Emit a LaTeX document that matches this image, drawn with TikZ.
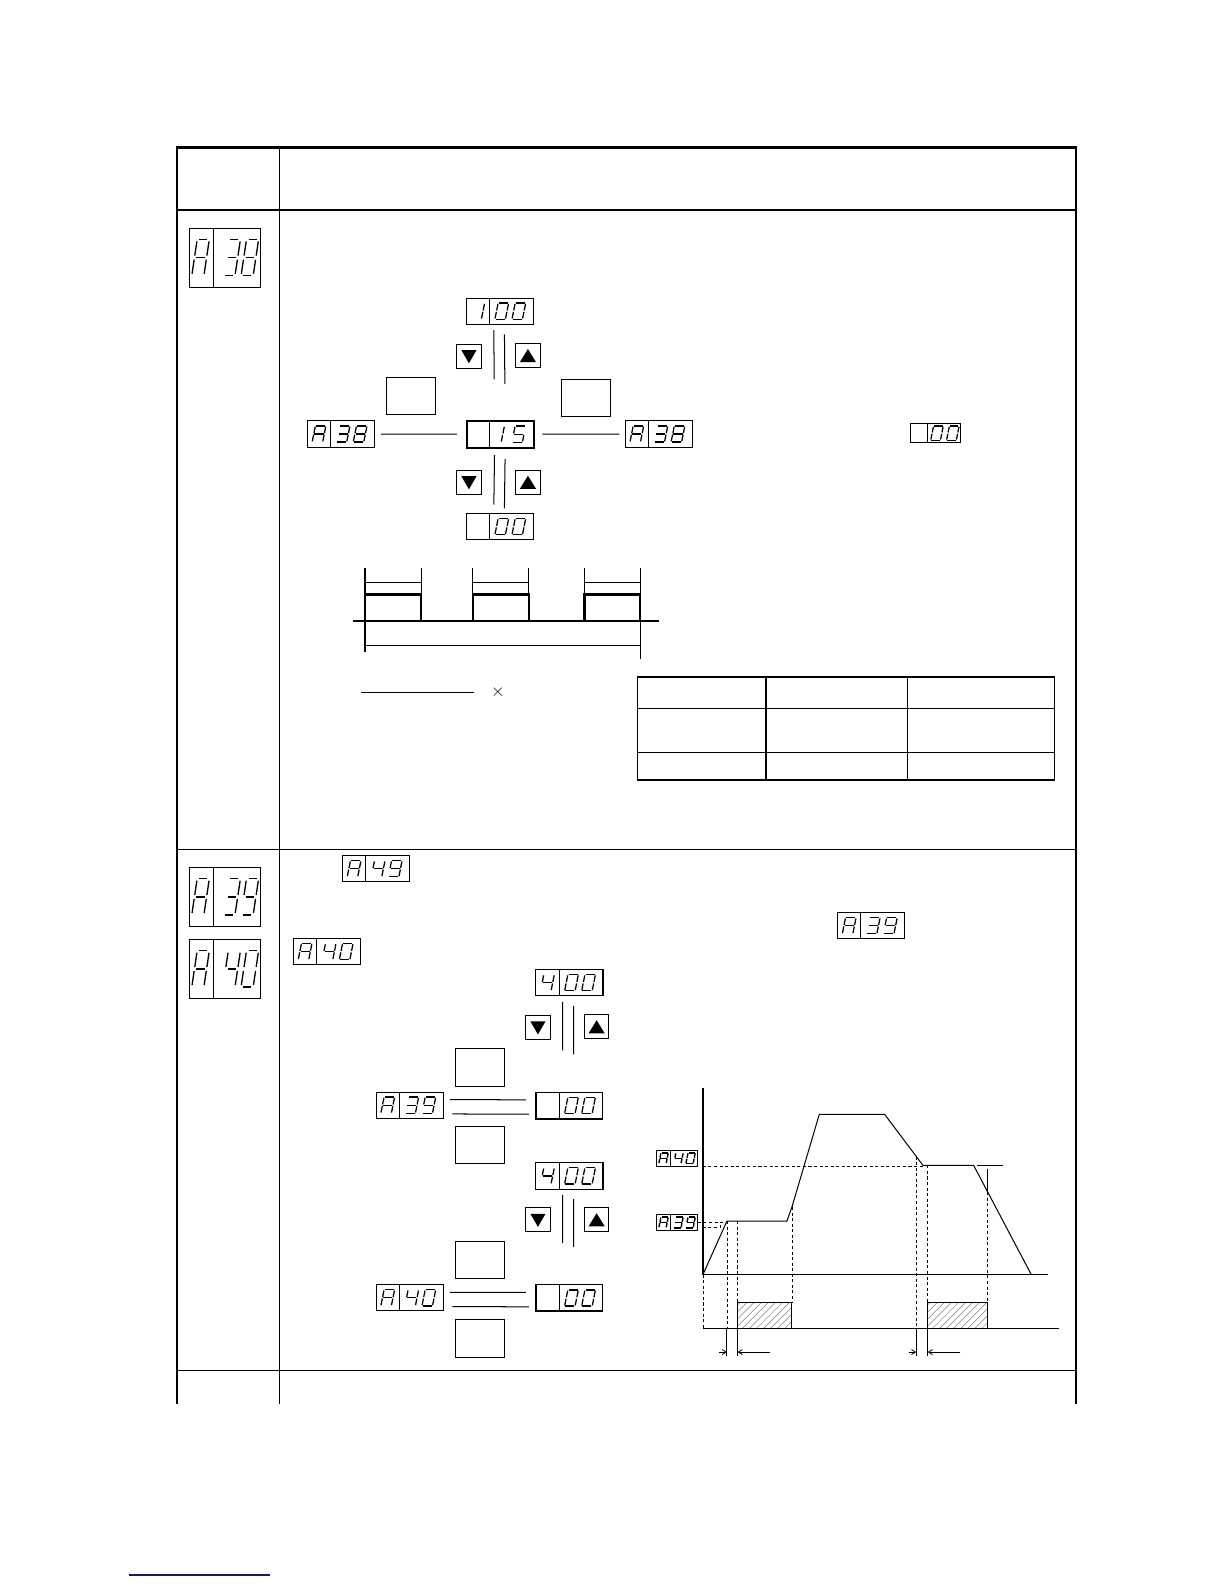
\documentclass[tikz,border=0pt]{standalone}
\usetikzlibrary{calc,arrows.meta}
\definecolor{linkblue}{RGB}{20,20,140}
% seven-segment helpers
\newcommand\zsa{\draw[line width=\zlw] (-\zhw+\zgp,-\zhh) -- (\zhw-\zgp,-\zhh);}
\newcommand\zsb{\draw[line width=\zlw] (\zhw,-\zhh+\zgp) -- (\zhw,-\zgp);}
\newcommand\zsc{\draw[line width=\zlw] (\zhw,\zgp) -- (\zhw,\zhh-\zgp);}
\newcommand\zsd{\draw[line width=\zlw] (-\zhw+\zgp,\zhh) -- (\zhw-\zgp,\zhh);}
\newcommand\zse{\draw[line width=\zlw] (-\zhw,\zgp) -- (-\zhw,\zhh-\zgp);}
\newcommand\zsf{\draw[line width=\zlw] (-\zhw,-\zhh+\zgp) -- (-\zhw,-\zgp);}
\newcommand\zsg{\draw[line width=\zlw] (-\zhw+\zgp,0) -- (\zhw-\zgp,0);}
\newcommand\zszs{\def\zhw{5.2}\def\zhh{8}\def\zgp{0.7}\def\zlw{1.25pt}\def\zsl{0.2}}
\newcommand\zszm{\def\zhw{4.8}\def\zhh{7}\def\zgp{0.7}\def\zlw{1.25pt}\def\zsl{0.2}}
\newcommand\zszb{\def\zhw{6}\def\zhh{18}\def\zgp{2}\def\zlw{1.3pt}\def\zsl{0.15}}
\newcommand\zszt{\def\zhw{3.6}\def\zhh{5.3}\def\zgp{0.5}\def\zlw{1.4pt}\def\zsl{0.2}}
\expandafter\def\csname zch0\endcsname{a,b,c,d,e,f}
\expandafter\def\csname zch1\endcsname{b,c}
\expandafter\def\csname zch3\endcsname{a,b,g,c,d}
\expandafter\def\csname zch4\endcsname{f,g,b,c}
\expandafter\def\csname zch5\endcsname{a,f,g,c,d}
\expandafter\def\csname zch8\endcsname{a,b,c,d,e,f,g}
\expandafter\def\csname zch9\endcsname{a,b,c,d,f,g}
\expandafter\def\csname zchA\endcsname{a,b,c,e,f,g}
\newcommand\dg[4]{\if\relax\detokenize{#4}\relax\else
  \begin{scope}[shift={(#1,#2)}]
   \csname zsz#3\endcsname
   \begin{scope}[xslant=\zsl]
   \edef\zlist{\csname zch#4\endcsname}%
   \foreach \s in \zlist {\csname zs\s\endcsname}%
   \end{scope}
  \end{scope}\fi}
\newcommand\dispbox[7][1pt]{%
  \node[dsp, line width=#1, minimum width=#5, minimum height=#6] (#2) at (#3,#4) {};
  \draw[line width=1pt] (#3+#7,#4) -- (#3+#7,#4+#6);}
\newcommand\sdisp[6]{\dispbox{#1}{#2}{#3}{66.5}{26}{23}%
  \dg{#2+11.5}{#3+13}{s}{#4}\dg{#2+35.3}{#3+13}{s}{#5}\dg{#2+52.2}{#3+13}{s}{#6}}
\newcommand\bdisp[6]{\dispbox{#1}{#2}{#3}{70.5}{58.5}{23.8}%
  \dg{#2+11}{#3+29}{b}{#4}\dg{#2+23.8+18}{#3+29}{b}{#5}\dg{#2+23.8+36}{#3+29}{b}{#6}}
\newcommand\tdisp[6]{\dispbox{#1}{#2}{#3}{41.2}{15.6}{14.5}%
  \dg{#2+7.25}{#3+7.8}{t}{#4}\dg{#2+14.5+7.5}{#3+7.8}{t}{#5}\dg{#2+14.5+19.5}{#3+7.8}{t}{#6}}
\newcommand\btn[4]{\node[btnbox] (#1) at (#2,#3) {};
  \if#4d\fill (#2+4.5,#3+6) -- (#2+19.5,#3+6) -- (#2+12,#3+19) -- cycle;
  \else\fill (#2+4,#3+18.5) -- (#2+20,#3+18.5) -- (#2+12,#3+5.5) -- cycle;\fi}
\begin{document}
\begin{tikzpicture}[x=1pt,y=-1pt,
  dsp/.style={draw,inner sep=0pt,outer sep=0pt,anchor=north west},
  keybox/.style={draw,line width=1pt,inner sep=0pt,outer sep=0pt,anchor=north west,minimum width=48.5,minimum height=36.5},
  btnbox/.style={draw,line width=1pt,inner sep=0pt,outer sep=0pt,anchor=north west,minimum width=24,minimum height=24},
  conn/.style={line width=1pt},
  thk/.style={line width=2.2pt},
  tbl/.style={line width=1pt},
  dsh/.style={line width=0.8pt,dash pattern=on 3pt off 2.5pt},
  arr/.style={line width=0.8pt,-{Straight Barb[length=4pt,width=5pt]}},
]
\useasboundingbox (0,0) rectangle (1212,1568);
\fill[white] (0,0) rectangle (1212,1568);

% ---------- table frame ----------
\draw[line width=2.6pt] (175,146) -- (1065,146);
\draw[line width=2.6pt] (175,208) -- (1065,208);
\draw[line width=1.6pt] (175,145) -- (175,1390);
\draw[line width=1.6pt] (1065,145) -- (1065,1390);
\draw[tbl] (277,146) -- (277,1390);
\draw[tbl] (175,841) -- (1065,841);
\draw[tbl] (175,1357) -- (1065,1357);

% ---------- section A38 ----------
\bdisp{lblA}{187.5}{226}{A}{3}{8}

\sdisp{top1}{461.4}{295}{1}{0}{0}
\btn{dn1}{452.2}{340.6}{d}
\btn{up1}{510.6}{340}{u}
\node[keybox] (key1) at (382.5,373.6) {};
\node[keybox] (key2) at (556.2,375.6) {};
\sdisp{a38l}{304.3}{416.6}{A}{3}{8}
\dispbox[2pt]{ctr}{462}{416.6}{67}{26.4}{22.5}
\dg{462+22.5+8}{429.8}{s}{1}
\dg{462+22.5+29}{429.8}{s}{5}
\sdisp{a38r}{618.9}{416.6}{A}{3}{8}
\sdisp{bot1}{461.4}{508.3}{}{0}{0}
\btn{dn2}{452.2}{465.4}{d}
\btn{up2}{510.6}{465.4}{u}
\draw[conn,shorten <=6.4,shorten >=9.8] (a38l) -- (ctr);
\draw[conn,shorten <=8,shorten >=5.9] (ctr) -- (a38r);
\draw[conn,shorten <=5.8,shorten >=41] ($(top1.south)+(-5.9,0)$) -- ($(ctr.north)+(-5.9,0)$);
\draw[conn,shorten <=10,shorten >=36.6] ($(top1.south)+(4.6,0)$) -- ($(ctr.north)+(4.6,0)$);
\draw[conn,shorten <=7.5,shorten >=8.9] ($(ctr.south)+(-5.9,0)$) -- ($(bot1.north)+(-5.9,0)$);
\draw[conn,shorten <=11.5,shorten >=5] ($(ctr.south)+(4.6,0)$) -- ($(bot1.north)+(4.6,0)$);

\dispbox{d00}{901.4}{419.2}{49.2}{19.1}{16.8}
\dg{927.5}{428.8}{m}{0}
\dg{943.2}{428.8}{m}{0}

% timing diagram
\draw[thk] (361.4,562.7) -- (361.4,645.3);
\draw[thk] (349.9,614.6) -- (651.9,614.6);
\draw[thk] (361.4,614.6) -- (361.4,588.5) -- (416.9,588.5) -- (416.9,614.6);
\draw[thk] (468,614.6) -- (468,588.5) -- (523.5,588.5) -- (523.5,614.6);
\draw[thk] (578.6,614.6) -- (578.6,588.5) -- (633.7,588.5) -- (633.7,614.6);
\foreach \xa/\xb in {361.4/416.9,468/523.5,578.6/633.7}{
  \draw[line width=0.8pt] (\xa,562.7) -- (\xa,588.5);
  \draw[line width=0.8pt] (\xb,562.7) -- (\xb,588.5);
  \draw[line width=0.8pt] (\xa,576.6) -- (\xb,576.6);}
\draw[line width=0.8pt] (633.7,614.6) -- (633.7,651.9);
\draw[line width=0.8pt] (361.4,639.3) -- (633.7,639.3);

% formula
\draw[line width=0.9pt] (357,685) -- (469,685);
\node[inner sep=0pt] (tms) at (493,685) {\fontsize{16}{16}\selectfont$\times$};

% small table
\draw[line width=1.3pt] (631,670) rectangle (1044,772);
\draw[line width=1.1pt] (631,701) -- (1044,701);
\draw[line width=1.1pt] (631,745) -- (1044,745);
\draw[line width=2pt] (758,670) -- (758,772);
\draw[line width=1.1pt] (898,670) -- (898,772);

% ---------- section A39/A40 ----------
\bdisp{lblB}{187.5}{858.8}{A}{3}{9}
\bdisp{lblC}{187.5}{930.1}{A}{4}{0}
\sdisp{a49}{339}{847}{A}{4}{9}
\sdisp{a39i}{829.1}{903.4}{A}{3}{9}
\sdisp{a40i}{290.5}{929}{A}{4}{0}

% A39 block
\sdisp{top2}{530.4}{959.8}{4}{0}{0}
\btn{dn3}{520.5}{1005}{d}
\btn{up3}{578.6}{1004.4}{u}
\node[keybox,minimum width=48.2,minimum height=38] (key3) at (451.2,1038) {};
\sdisp{a39d}{372.3}{1081}{A}{3}{9}
\dispbox{r39}{530.4}{1081}{66}{26.4}{23}
\draw[line width=2.2pt] (530.4,1080.5) -- (530.4,1107.4) -- (596.9,1107.4);
\dg{530.4+35.3}{1094.2}{s}{0}
\dg{530.4+52.2}{1094.2}{s}{0}
\node[keybox,minimum width=48.2,minimum height=37] (key4) at (451.2,1115) {};
\draw[conn] ($(a39d.east)+(6.6,-5.5)$) -- ($(r39.west)+(-9.9,-5.5)$);
\draw[conn] ($(a39d.east)+(9,8.7)$) -- ($(r39.west)+(-6.6,8.7)$);
\draw[conn,shorten <=5.9,shorten >=41.3] ($(top2.south)+(-6.6,0)$) -- ($(r39.north)+(-6.6,0)$);
\draw[conn,shorten <=9.9,shorten >=37.3] ($(top2.south)+(4.3,0)$) -- ($(r39.north)+(4.3,0)$);

% A40 block
\sdisp{top3}{530.4}{1151}{4}{0}{0}
\btn{dn4}{520.5}{1195.5}{d}
\btn{up4}{578.6}{1195.5}{u}
\node[keybox,minimum width=48.2,minimum height=37] (key5) at (451.2,1228.9) {};
\sdisp{a40d}{372.3}{1271.7}{A}{4}{0}
\dispbox{r40}{530.4}{1271.7}{66}{26.4}{23}
\draw[line width=2.2pt] (530.4,1271.2) -- (530.4,1298.1) -- (596.9,1298.1);
\dg{530.4+35.3}{1284.9}{s}{0}
\dg{530.4+52.2}{1284.9}{s}{0}
\node[keybox,minimum width=48.2,minimum height=37] (key6) at (451.2,1306.4) {};
\draw[conn] ($(a40d.east)+(6.6,-5.5)$) -- ($(r40.west)+(-9.9,-5.5)$);
\draw[conn] ($(a40d.east)+(9,8.7)$) -- ($(r40.west)+(-6.6,8.7)$);
\draw[conn,shorten <=5.9,shorten >=41.3] ($(top3.south)+(-6.6,0)$) -- ($(r40.north)+(-6.6,0)$);
\draw[conn,shorten <=9.9,shorten >=37.3] ($(top3.south)+(4.3,0)$) -- ($(r40.north)+(4.3,0)$);

% ---------- graph ----------
\tdisp{g40}{649.6}{1138.7}{A}{4}{0}
\tdisp{g39}{649.6}{1202.3}{A}{3}{9}
\draw[line width=2pt] (695.8,1077) -- (695.8,1261.8);
\draw[line width=1pt] (695.8,1261.8) -- (1037,1261.8);
\draw[line width=1pt,line join=round] (695.8,1261.8) -- (719.6,1208.7) -- (779,1208.7) -- (783.9,1194.9) -- (811,1103.1) -- (875.7,1103.1) -- (913.6,1153.6) -- (963.8,1153.6) -- (1020.9,1261.8);
\draw[line width=1pt] (967.1,1153.6) -- (992.5,1153.6);
\draw[line width=1pt] (977.7,1156.9) -- (977.7,1180);
\draw[dsh] (977.7,1180) -- (977.7,1288.9);
\draw[dsh] (695.8,1154.3) -- (913.6,1154.3);
\draw[dsh] (690.8,1209.7) -- (719.6,1209.7);
\draw[dsh] (695.8,1214.7) -- (713,1214.7) -- (713,1209.7);
\draw[dsh] (719.6,1208.7) -- (719.6,1314.7);
\draw[dsh] (730.1,1208.7) -- (730.1,1288.9);
\draw[dsh] (783.9,1194.9) -- (783.9,1288.9);
\draw[dsh] (907,1144.8) -- (907,1314.7);
\draw[dsh] (918.3,1153.6) -- (918.3,1288.9);
\draw[dsh] (695.8,1261.8) -- (695.8,1314.7);
\draw[line width=1pt] (695.8,1314.7) -- (1048,1314.7);
\foreach \xa/\xb in {730.1/783.9,918.3/977.7}{
  \begin{scope}
  \clip (\xa,1288.9) rectangle (\xb,1314.7);
  \foreach \i in {-30,-23,...,70}{\draw[gray,line width=0.5pt] (\xa+\i,1314.7) -- ++(26,-26);}
  \end{scope}
  \draw[line width=0.9pt] (\xa,1288.9) rectangle (\xb,1314.7);}
\foreach \xv in {719.6,730.1,907,918.3}{\draw[line width=0.9pt] (\xv,1314.7) -- (\xv,1342);}
\draw[arr] (711.3,1338.4) -- (719.6,1338.4);
\draw[arr] (762.5,1338.4) -- (730.1,1338.4);
\draw[arr] (899.4,1338.4) -- (907,1338.4);
\draw[arr] (950.6,1338.4) -- (918.3,1338.4);

% page link underline
\draw[line width=1.2pt,linkblue] (128,1559) -- (267,1559);
\end{tikzpicture}
\end{document}
